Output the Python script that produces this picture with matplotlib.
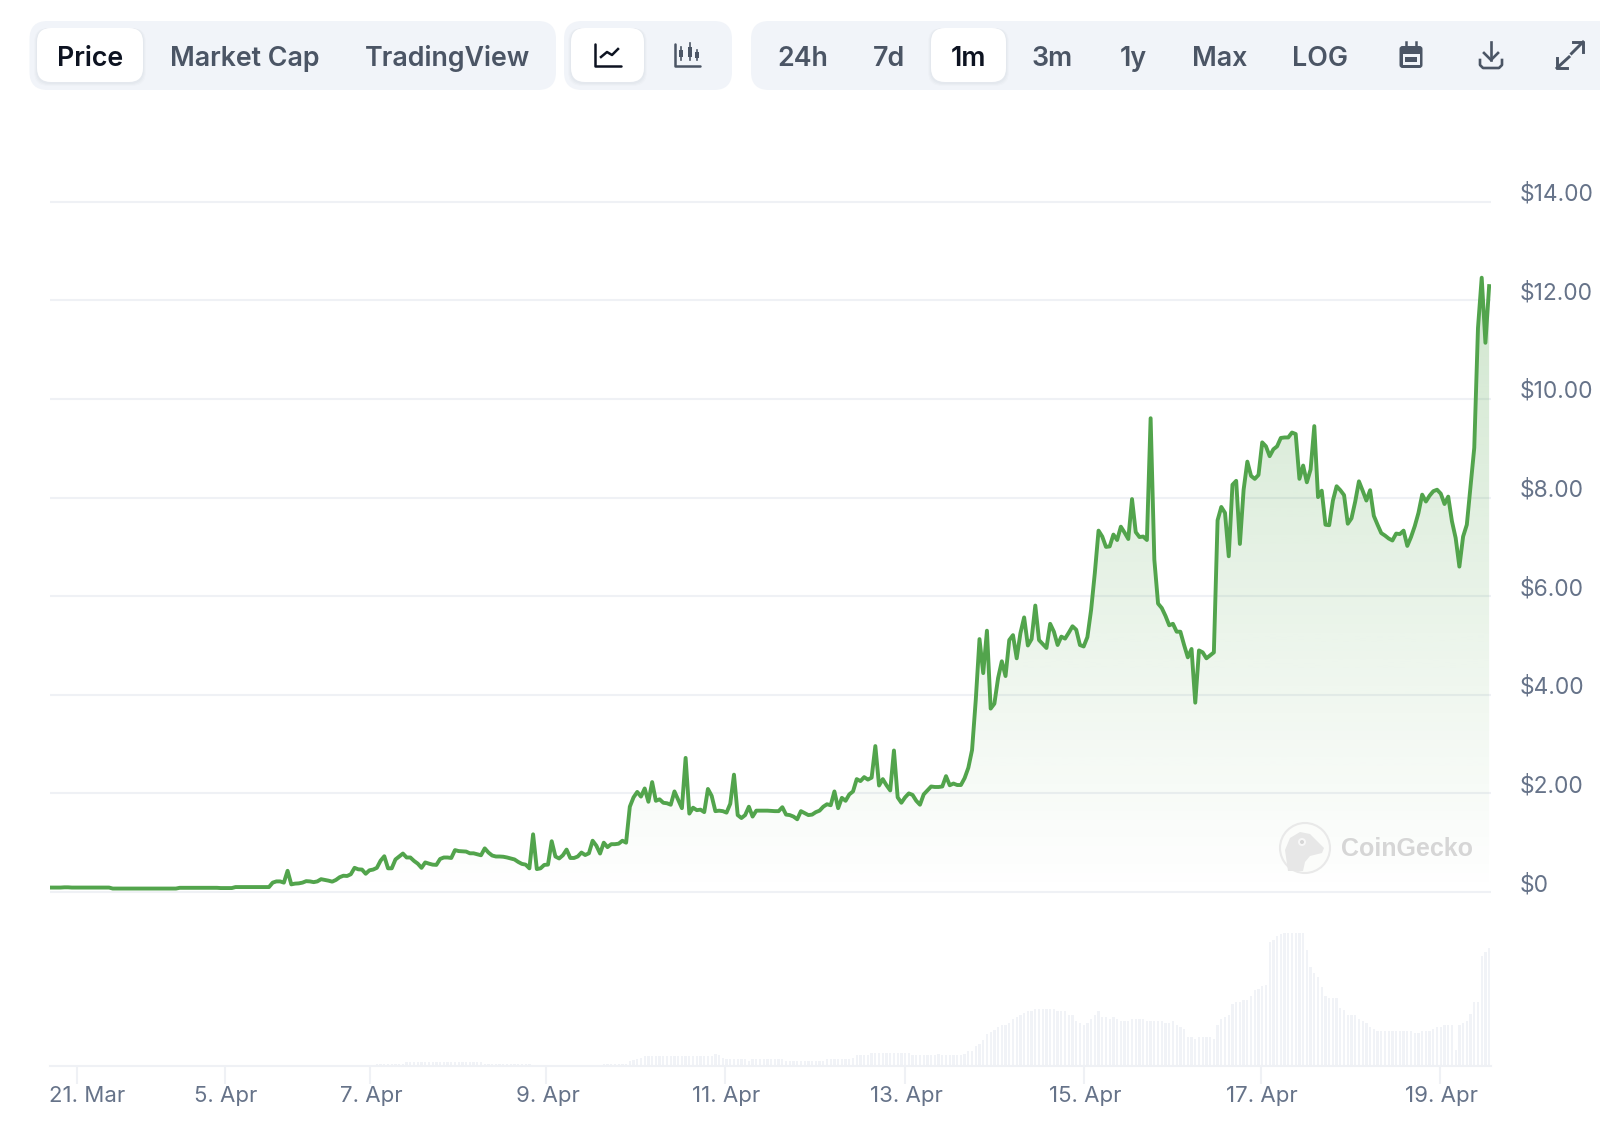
import numpy as np
import matplotlib
matplotlib.use("Agg")
import matplotlib.pyplot as plt
from matplotlib.patches import FancyBboxPatch, Circle, Polygon, Rectangle
from matplotlib.transforms import blended_transform_factory

W, H = 1600, 1136

# hourly price
price = [
    0.09, 0.09, 0.09, 0.09, 0.095, 0.095, 0.09, 0.09, 0.09, 0.09,
    0.09, 0.09, 0.09, 0.09, 0.09, 0.09, 0.09, 0.07, 0.07, 0.07,
    0.07, 0.07, 0.07, 0.07, 0.07, 0.07, 0.07, 0.07, 0.07, 0.07,
    0.07, 0.07, 0.07, 0.07, 0.07, 0.085, 0.085, 0.085, 0.085, 0.085,
    0.085, 0.085, 0.085, 0.085, 0.085, 0.085, 0.08, 0.08, 0.08, 0.08,
    0.10, 0.10, 0.10, 0.10, 0.10, 0.10, 0.10, 0.10, 0.10, 0.10,
    0.19, 0.215, 0.215, 0.19, 0.43, 0.155, 0.17, 0.175, 0.19, 0.22,
    0.215, 0.2, 0.215, 0.26, 0.245, 0.23, 0.21, 0.245, 0.3, 0.33,
    0.325, 0.36, 0.49, 0.46, 0.455, 0.37, 0.44, 0.455, 0.49, 0.635,
    0.725, 0.48, 0.48, 0.66, 0.72, 0.78, 0.7, 0.7, 0.63, 0.575,
    0.49, 0.6, 0.575, 0.555, 0.55, 0.67, 0.7, 0.7, 0.69, 0.85,
    0.83, 0.825, 0.82, 0.785, 0.785, 0.765, 0.745, 0.885, 0.8, 0.74,
    0.72, 0.72, 0.715, 0.7, 0.68, 0.66, 0.61, 0.57, 0.555, 0.48,
    1.17, 0.465, 0.48, 0.55, 0.555, 1.03, 0.72, 0.68, 0.745, 0.86,
    0.69, 0.69, 0.72, 0.8, 0.75, 0.785, 1.04, 0.94, 0.78, 1.0,
    0.91, 0.97, 0.97, 0.98, 1.04, 1.0, 1.73, 1.92, 2.03, 1.935,
    2.1, 1.83, 2.23, 1.85, 1.88, 1.81, 1.8, 1.77, 2.04, 1.87,
    1.7, 2.72, 1.59, 1.71, 1.66, 1.67, 1.62, 2.09, 1.95, 1.64,
    1.65, 1.64, 1.61, 1.79, 2.38, 1.56, 1.5, 1.56, 1.73, 1.53,
    1.65, 1.65, 1.65, 1.65, 1.645, 1.64, 1.64, 1.72, 1.57, 1.56,
    1.53, 1.475, 1.64, 1.6, 1.56, 1.57, 1.62, 1.65, 1.73, 1.78,
    1.76, 2.04, 1.7, 1.91, 1.85, 1.98, 2.04, 2.29, 2.25, 2.33,
    2.28, 2.32, 2.96, 2.16, 2.29, 2.165, 2.06, 2.87, 1.92, 1.81,
    1.92, 2.0, 1.97, 1.85, 1.77, 1.98, 2.06, 2.14, 2.13, 2.13,
    2.14, 2.35, 2.165, 2.2, 2.17, 2.17, 2.31, 2.52, 2.88, 3.9,
    5.13, 4.44, 5.3, 3.72, 3.82, 4.34, 4.68, 4.38, 5.11, 5.21,
    4.74, 5.25, 5.57, 5.0, 5.13, 5.81, 5.11, 5.03, 4.95, 5.44,
    5.28, 5.01, 5.18, 5.14, 5.26, 5.39, 5.32, 5.01, 4.98, 5.17,
    5.72, 6.47, 7.33, 7.21, 7.0, 7.01, 7.25, 7.14, 7.41, 7.29,
    7.16, 7.97, 7.3, 7.2, 7.21, 7.14, 9.61, 6.74, 5.85, 5.76,
    5.6, 5.41, 5.44, 5.28, 5.28, 5.01, 4.76, 4.93, 3.84, 4.9,
    4.86, 4.74, 4.8, 4.86, 7.54, 7.81, 7.69, 6.81, 8.26, 8.34,
    7.06, 8.16, 8.73, 8.44, 8.38, 8.46, 9.12, 9.04, 8.84, 8.98,
    9.04, 9.21, 9.22, 9.22, 9.32, 9.29, 8.38, 8.65, 8.31, 8.57,
    9.45, 8.01, 8.14, 7.45, 7.44, 7.94, 8.23, 8.15, 8.05, 7.47,
    7.58, 7.92, 8.33, 8.14, 7.94, 8.15, 7.63, 7.45, 7.28, 7.23,
    7.17, 7.13, 7.27, 7.26, 7.33, 7.02, 7.2, 7.42, 7.69, 8.06,
    7.92, 8.04, 8.13, 8.16, 8.08, 7.87, 8.02, 7.52, 7.18, 6.6,
    7.21, 7.45, 8.23, 9.01, 11.44, 12.46, 11.14, 12.29,
]

# hourly volume, relative height of the bars
volume = [
    0, 0, 0, 0, 0, 0, 0, 0, 0, 0, 0, 0, 0, 0, 0, 0, 0, 0, 0, 0, 0, 0,
    0, 0, 0, 0, 0, 0, 0, 0, 0, 0, 0, 0, 0, 0, 0, 0, 0, 0, 0, 0, 0, 0,
    0, 0, 0, 0, 0, 0, 0, 0, 0, 0, 0, 0, 0, 0, 0, 0, 0, 0, 0, 0, 0, 0,
    0, 0, 0, 0, 0, 0, 0, 0, 0, 0, 0, 0, 0, 0, 0, 0, 0, 0, 0, 0, 0, 0,
    2.5, 2.5, 2.5, 2.5, 2.5, 2.5, 2.5, 2.5,
    4, 4, 4, 4, 4, 4, 4, 4, 4, 4, 4, 4, 4, 4, 4, 4, 4, 4, 4, 4, 4,
    2.5, 2.5, 2.5, 2.5, 2.5, 2.5, 2.5, 2.5, 2.5, 2.5, 2.5, 2.5, 2.5,
    0, 0, 0, 0, 0, 0, 0, 0, 0, 0, 0, 0, 0, 0, 0, 0, 0, 0, 0,
    2.5, 2.5, 2.5, 2.5, 2.5, 2.5, 2.5, 5, 6, 7.5, 8,
    10, 10, 10, 10, 10, 10, 10, 10, 10, 10, 10, 10, 10, 10, 10, 10, 10, 10, 10,
    12, 11, 8,
    6.7, 6.7, 6.7, 6.7, 6.7, 6.7, 5, 6.7, 6.7, 6.7, 6.7, 6.7, 6.7, 6.7,
    6.7, 6.7, 5, 5, 5.5, 5.5, 5.5, 5.5, 5.5, 5.5, 5.5, 5.5, 5.5, 6.7,
    6.7, 6.7, 6.7, 6.7, 6.7, 6.7,
    8.3, 10.7, 10.7, 10.7, 10.7,
    12.7, 12.7, 12.7, 12.7, 12.7, 12.7, 12.7, 12.7, 12.7, 12.7, 12.7,
    10.7, 10.7, 10.7, 10.7, 10.7, 10.7, 10.7, 12.3,
    10.7, 10.7, 10.7, 10.7, 10.7, 10.7, 12.3, 14.7, 14.7,
    20.3, 22.3, 25.7, 31.7, 33.7, 35.7, 39.3, 41.3, 41.3, 43.3,
    47.3, 49, 51, 53, 54.7, 54.7,
    56.7, 56.7, 56.7, 56.7, 56.7, 56.7, 55, 55, 55, 51.3, 51.3,
    45.3, 43.3, 41.3, 43.3, 47.3, 51, 54.7,
    49.3, 49.3, 47.3, 49.3, 47.3, 45.3, 45.3, 45.3,
    47.3, 47.3, 47.3, 47.3, 45.3, 45.3, 45.3, 45.3, 45.3, 43.3, 43.3,
    45, 41, 39, 37, 29.3, 29.3, 27.3, 29.3, 29.3, 29.3, 29.3, 27.3,
    41, 46.7, 48.7, 50.7, 62, 64, 64, 66, 66, 69.7, 75.7, 77.3, 79.7, 81,
    123.7, 125.7, 129.7, 131.7, 133.3, 133.3, 133.3, 133.3, 133.3, 133.3,
    116, 98.7, 93, 89, 79.3, 69.7, 67.7, 67.7, 67.7, 58, 56.3, 50.7, 50.7,
    50.7, 46.7, 44.7, 42.7, 39, 37, 35,
    35, 35, 35, 35, 35, 35, 35, 35, 35, 33.3, 33.3, 35, 35, 35,
    37, 39, 39, 41, 41, 41, 16, 41, 42.7, 44.7, 52.3, 64, 64, 110, 114, 117.7,
]

price_ticks = [0, 2, 4, 6, 8, 10, 12, 14]
price_labels = ["$0", "$2.00", "$4.00", "$6.00", "$8.00", "$10.00", "$12.00", "$14.00"]

# sample index of each date tick
date_ticks = [7.3, 47.1, 86.1, 133.6, 181.7, 230, 278, 325.7, 373.8]
date_labels = ["21. Mar", "5. Apr", "7. Apr", "9. Apr", "11. Apr", "13. Apr",
               "15. Apr", "17. Apr", "19. Apr"]

tabs_left = ["Price", "Market Cap", "TradingView"]
tabs_right = ["24h", "7d", "1m", "3m", "1y", "Max", "LOG"]

GREEN = "#52a44c"
GRID = "#eff1f5"
GROUP = "#f1f4f9"
MUTED = "#667389"
DARK = "#0d1321"
SLATE = "#4b5565"

plt.rcParams["font.family"] = ["Inter", "DejaVu Sans"]

fig = plt.figure(figsize=(W / 100, H / 100), dpi=100, facecolor="white")


def px_axes(x0, y0, x1, y1):
    return fig.add_axes([x0 / W, 1 - y1 / H, (x1 - x0) / W, (y1 - y0) / H])


PLOT_L, PLOT_R = 49.5, 1491
PX_PER_SAMPLE = 3.72
PX_PER_USD = 49.3
x = np.arange(len(price))

# price panel
ax = px_axes(PLOT_L, 190, PLOT_R, 902)
ax.set_xlim(0, (PLOT_R - PLOT_L) / PX_PER_SAMPLE)
ax.set_ylim(-10 / PX_PER_USD, (892 - 190) / PX_PER_USD)
for s in ax.spines.values():
    s.set_visible(False)
ax.set_xticks([])
ax.set_yticks(price_ticks)
ax.set_yticklabels([])
ax.tick_params(length=0)
ax.grid(axis="y", color=GRID, linewidth=1.5, zorder=0)
ax.set_axisbelow(True)

# gradient under the line
fill = ax.fill_between(x, price, 0, color="none")
grad = np.zeros((256, 1, 4))
grad[..., 0], grad[..., 1], grad[..., 2] = 82 / 255, 164 / 255, 76 / 255
grad[..., 3] = np.linspace(0.27, 0.0, 256)[:, None]
im = ax.imshow(grad, extent=[0, x[-1], 0, max(price)], aspect="auto", zorder=1,
               interpolation="bilinear")
ax.set_xlim(0, (PLOT_R - PLOT_L) / PX_PER_SAMPLE)
ax.set_ylim(-10 / PX_PER_USD, (892 - 190) / PX_PER_USD)
im.set_clip_path(fill.get_paths()[0], transform=ax.transData)

ax.plot(x, price, color=GREEN, linewidth=2.8, solid_joinstyle="round", zorder=3)

trans = blended_transform_factory(fig.transFigure, ax.transData)
for val, lab in zip(price_ticks, price_labels):
    ax.text(1520 / W, val - 4 / PX_PER_USD, lab, transform=trans, ha="left", va="bottom",
            fontsize=16.4, color=MUTED, clip_on=False)

# volume panel
vax = px_axes(PLOT_L, 921, PLOT_R, 1066)
vax.set_xlim(0, (PLOT_R - PLOT_L) / PX_PER_SAMPLE)
vax.set_ylim(0, 145)
vax.bar(np.arange(len(volume)), volume, width=0.62, color="#f1f3f7", linewidth=0)
for name, s in vax.spines.items():
    s.set_visible(name == "bottom")
vax.spines["bottom"].set_color(GRID)
vax.spines["bottom"].set_linewidth(1.5)
vax.set_yticks([])
vax.set_xticks(date_ticks)
vax.set_xticklabels([])
vax.tick_params(axis="x", length=13, width=1.5, color=GRID)

trans = blended_transform_factory(vax.transData, fig.transFigure)
for i, (t, lab) in enumerate(zip(date_ticks, date_labels)):
    tx, ha = (-0.2, "left") if i == 0 else (t + 0.3, "center")
    vax.text(tx, 1 - 1096 / H, lab, transform=trans, ha=ha, va="center",
             fontsize=16, color=MUTED, clip_on=False)

# toolbar and watermark, drawn in pixel coordinates
ui = fig.add_axes([0, 0, 1, 1], facecolor="none")
ui.set_xlim(0, W)
ui.set_ylim(H, 0)
ui.axis("off")


def box(x0, y0, x1, y1, color, r=14, **kw):
    p = FancyBboxPatch((x0, y0), x1 - x0, y1 - y0, boxstyle=f"round,pad=0,rounding_size={r}",
                       facecolor=color, edgecolor="none", **kw)
    ui.add_patch(p)


def white_button(x0, x1):
    for grow, alpha in [(3, 0.012), (2, 0.018), (1, 0.025)]:
        box(x0 - grow, 28, x1 + grow, 82 + grow + 1, "#1b2a4a", alpha=alpha)
    box(x0, 28, x1, 82, "white")


box(29.5, 21, 556, 90, GROUP, r=18)
box(564, 21, 732, 90, GROUP, r=18)
box(751, 21, 1640, 90, GROUP, r=18)
white_button(37, 143)
white_button(571, 644)
white_button(931, 1006)

left_x = [90, 244.5, 447.5]
right_x = [803, 889.5, 968.5, 1052, 1133, 1219.5, 1320.5]
for label, tx in zip(tabs_left + tabs_right, left_x + right_x):
    active = label in ("Price", "1m")
    ui.text(tx, 59, label, ha="center", va="center", fontsize=19.3, fontweight="semibold",
            color=DARK if active else SLATE)

# chart type icons
ui.plot([595, 595, 621], [44, 66, 66], color=DARK, lw=1.8, solid_capstyle="round")
ui.plot([601, 607, 612, 618], [57, 52, 55, 49], color=DARK, lw=1.8)
ui.plot([675, 675, 700], [44, 66, 66], color=SLATE, lw=1.8, solid_capstyle="round")
for cx, y0, y1, b0, b1 in [(681, 47, 60, 50, 57), (690, 43, 60, 47, 57), (697, 50, 60, 52, 58)]:
    ui.plot([cx, cx], [y0, y1], color=SLATE, lw=1.2)
    ui.add_patch(Rectangle((cx - 2.4, b0), 4.8, b1 - b0, facecolor=SLATE, edgecolor="none"))

# calendar
box(1399.5, 46, 1422.5, 68, SLATE, r=3)
ui.add_patch(Rectangle((1402.5, 54), 17, 11, facecolor=GROUP, edgecolor="none"))
ui.add_patch(Rectangle((1405, 57), 12, 4.5, facecolor=SLATE, edgecolor="none"))
ui.plot([1406, 1406], [42, 47], color=SLATE, lw=1.8)
ui.plot([1416, 1416], [42, 47], color=SLATE, lw=1.8)
# download
ui.plot([1491, 1491], [42, 60], color=SLATE, lw=1.9)
ui.plot([1484, 1491, 1498], [53, 60, 53], color=SLATE, lw=1.9)
ui.plot([1480, 1480, 1483, 1499, 1502, 1502], [60, 65, 68, 68, 65, 60], color=SLATE, lw=1.9)
# expand
ui.plot([1571.5, 1583], [53.5, 42], color=SLATE, lw=2.1)
ui.plot([1573, 1583, 1583], [42, 42, 52], color=SLATE, lw=2.1)
ui.plot([1557, 1569], [68, 57], color=SLATE, lw=2.1)
ui.plot([1557, 1557, 1567], [58, 68, 68], color=SLATE, lw=2.1)

# CoinGecko watermark
ui.add_patch(Circle((1305, 848), 25, facecolor="#fbfcfa", edgecolor="#e9e9e9", lw=1.5))
ui.add_patch(Polygon([(1288, 871), (1285, 850), (1290, 838), (1300, 832), (1310, 834), (1318, 842),
                      (1324, 848), (1322, 853), (1310, 856), (1305, 862), (1303, 871)],
                     facecolor="#e7e7e7", edgecolor="none"))
ui.add_patch(Circle((1302, 842), 4, facecolor="#f7f7f7", edgecolor="none"))
ui.add_patch(Circle((1302, 842), 2, facecolor="#d5d5d5", edgecolor="none"))
ui.text(1341, 849, "CoinGecko", ha="left", va="center", fontsize=18, fontweight="bold",
        family="Liberation Sans", color="#d6d6d6")

fig.savefig("out.png", dpi=100)
